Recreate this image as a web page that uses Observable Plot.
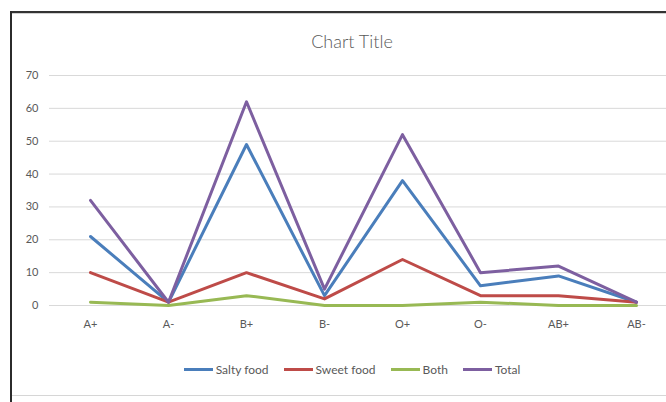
<!DOCTYPE html>
<html>
<head>
<meta charset="utf-8">
<script src="https://cdn.jsdelivr.net/npm/d3@7"></script>
<script src="https://cdn.jsdelivr.net/npm/@observablehq/plot@0.6"></script>
<style>
  html, body { margin: 0; padding: 0; background: #fff; overflow: hidden; }
  #wrap { position: relative; width: 666px; height: 402px; overflow: hidden; font-family: Lato, "Open Sans", sans-serif; }
  #chart { position: absolute; left: 0; top: 0; }
  .bt { position: absolute; left: 10px; top: 11px; width: 656px; height: 2px; background: #333; }
  .bt2 { position: absolute; left: 12px; top: 13px; width: 654px; height: 1px; background: #d0d0d0; }
  .bl { position: absolute; left: 10px; top: 11px; width: 2px; height: 391px; background: #2b2b2b; }
  .bb { position: absolute; left: 12px; top: 395px; width: 654px; height: 1px; background: #d6d6d6; }
  #title { position: absolute; left: 0; width: 704px; top: 30px; text-align: center; font-size: 18px; color: #595959; font-weight: 300; }
  #legend { position: absolute; left: 0; width: 704px; top: 362px; display: flex; justify-content: center; gap: 15px; font-size: 12px; color: #595959; }
  #legend .it { display: flex; align-items: center; }
  #legend .sw { width: 29px; height: 3px; margin-right: 3px; }
</style>
</head>
<body>
<div id="wrap">
  <div id="chart"></div>
  <div class="bt"></div><div class="bt2"></div><div class="bl"></div><div class="bb"></div>
  <div id="title">Chart Title</div>
  <div id="legend"></div>
</div>
<script>
const categories = ["A+", "A-", "B+", "B-", "O+", "O-", "AB+", "AB-"];
const seriesNames = ["Salty food", "Sweet food", "Both", "Total"];
const salty = [21, 1, 49, 3, 38, 6, 9, 1];
const sweet = [10, 1, 10, 2, 14, 3, 3, 1];
const both  = [1, 0, 3, 0, 0, 1, 0, 0];
const total = [32, 1, 62, 5, 52, 10, 12, 1];
const yTicks = [0, 10, 20, 30, 40, 50, 60, 70];
const colors = ["#4A7EBB", "#BE4B48", "#98B954", "#7D5FA0"];

const seriesValues = [salty, sweet, both, total];
const data = [];
seriesNames.forEach((s, i) => {
  categories.forEach((c, j) => data.push({series: s, cat: c, value: seriesValues[i][j]}));
});

const chart = Plot.plot({
  width: 666,
  height: 402,
  marginLeft: 49,
  marginRight: 0,
  marginTop: 75,
  marginBottom: 97,
  style: {fontFamily: "Lato, 'Open Sans', sans-serif", fontSize: "11px", color: "#595959", background: "transparent"},
  x: {type: "point", domain: categories, range: [88, 637], padding: 0, label: null},
  y: {domain: [0, 70], label: null},
  color: {domain: seriesNames, range: colors},
  marks: [
    Plot.ruleY(yTicks, {stroke: "#D9D9D9", strokeWidth: 1}),
    Plot.axisY({ticks: yTicks, tickSize: 0, tickPadding: 11, label: null, fill: "#595959"}),
    Plot.axisX({tickSize: 0, tickPadding: 15, label: null, fill: "#595959"}),
    Plot.line(data, {x: "cat", y: "value", z: "series", stroke: "series", strokeWidth: 3})
  ]
});
document.getElementById("chart").appendChild(chart);

const legend = document.getElementById("legend");
seriesNames.forEach((s, i) => {
  const it = document.createElement("div");
  it.className = "it";
  const sw = document.createElement("div");
  sw.className = "sw";
  sw.style.background = colors[i];
  const t = document.createElement("span");
  t.textContent = s;
  it.appendChild(sw); it.appendChild(t);
  legend.appendChild(it);
});
</script>
</body>
</html>
